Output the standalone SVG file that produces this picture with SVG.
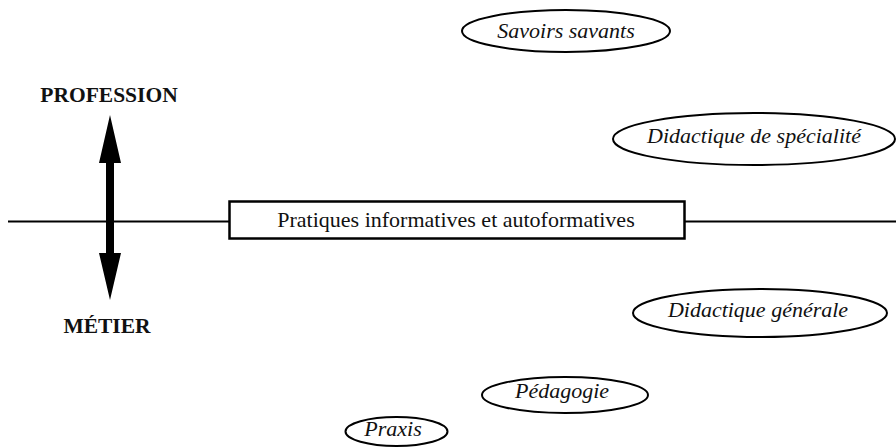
<svg xmlns="http://www.w3.org/2000/svg" width="896" height="448" viewBox="0 0 896 448" font-family="Liberation Serif">
<style>
.ell{fill:#fff;stroke:#000;stroke-width:2}
.it{font-style:italic;font-size:22px;text-anchor:middle;fill:#111}
.bd{font-weight:bold;font-size:21.5px;text-anchor:middle;fill:#111}
.rg{font-size:22px;text-anchor:middle;fill:#111}
.ln{stroke:#000;stroke-width:2;fill:none}
</style>
<rect width="896" height="448" fill="#fff"/>
<g id="connectors">
<line class="ln" x1="8" y1="221.5" x2="229" y2="221.5"/>
<line class="ln" x1="684" y1="221.5" x2="896" y2="221.5"/>
<path d="M110,115 L121,163 L114,163 L114,253 L121,253 L110,300 L99,253 L106,253 L106,163 L99,163 Z" fill="#000"/>
</g>
<g id="profession"><text class="bd" x="109" y="102" font-family="Liberation Serif">PROFESSION</text></g>
<g id="metier"><text class="bd" x="107" y="333" font-family="Liberation Serif">MÉTIER</text></g>
<g id="pratiques">
<rect x="229.5" y="201.5" width="455" height="37" fill="#fff" stroke="#000" stroke-width="2.5"/>
<text class="rg" x="456" y="227" font-family="Liberation Serif">Pratiques informatives et autoformatives</text>
</g>
<g id="savoirs">
<ellipse class="ell" cx="566" cy="31" rx="104" ry="21"/>
<text class="it" x="566" y="38" font-family="Liberation Serif">Savoirs savants</text>
</g>
<g id="specialite">
<ellipse class="ell" cx="754" cy="139" rx="141" ry="26"/>
<text class="it" x="754" y="143" font-family="Liberation Serif">Didactique de spécialité</text>
</g>
<g id="generale">
<ellipse class="ell" cx="760" cy="313" rx="127" ry="24"/>
<text class="it" x="758" y="317" font-family="Liberation Serif">Didactique générale</text>
</g>
<g id="pedagogie">
<ellipse class="ell" cx="565" cy="395" rx="83" ry="18"/>
<text class="it" x="562" y="398" font-family="Liberation Serif">Pédagogie</text>
</g>
<g id="praxis">
<ellipse class="ell" cx="396.5" cy="431.5" rx="51" ry="14.5"/>
<text class="it" x="393" y="436" font-family="Liberation Serif">Praxis</text>
</g>
</svg>
